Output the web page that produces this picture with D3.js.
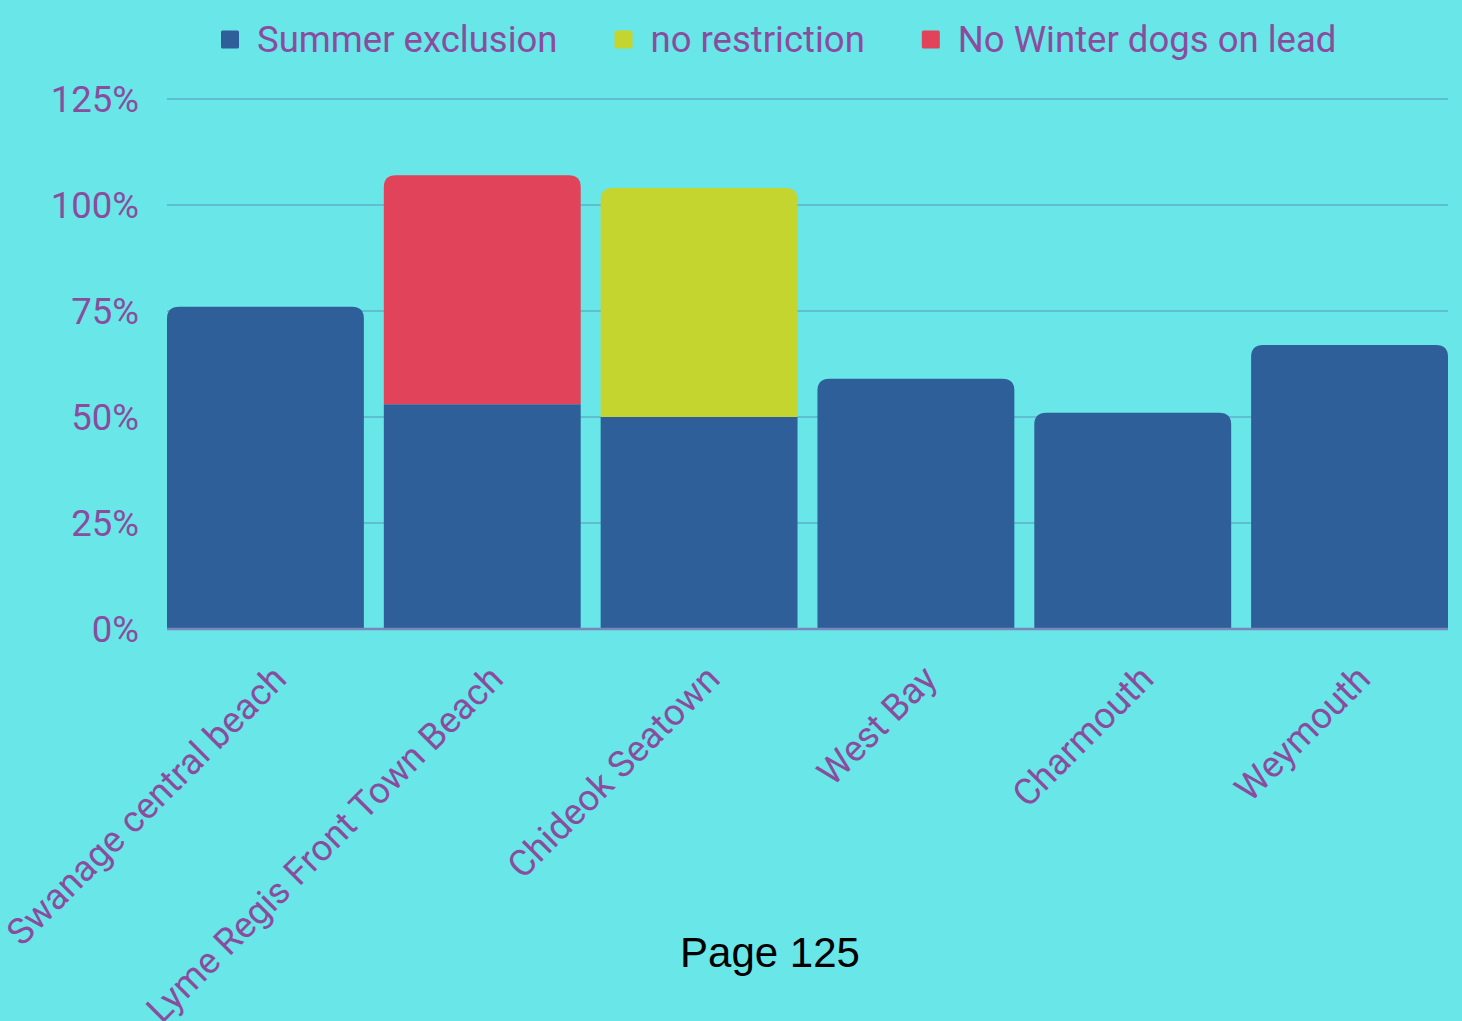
<!DOCTYPE html>
<html>
<head>
<meta charset="utf-8">
<script src="https://cdn.jsdelivr.net/npm/d3@7"></script>
<style>
  html, body { margin: 0; padding: 0; background: #69e6e8; }
  svg { display: block; }
</style>
</head>
<body>
<svg id="chart" width="1462" height="1021"></svg>
<script>
// Beach restriction shares by location (percent)
const categories = ["Swanage central beach", "Lyme Regis Front Town Beach", "Chideok Seatown", "West Bay", "Charmouth", "Weymouth"];
const seriesNames = ["Summer exclusion", "no restriction", "No Winter dogs on lead"];
const summerExclusion = [76, 53, 50, 59, 51, 67];
const noRestriction   = [0, 0, 54, 0, 0, 0];
const noWinterLead    = [0, 54, 0, 0, 0, 0];
const yTicks = [0, 25, 50, 75, 100, 125];
const colors = ["#2e5f98", "#c5d52f", "#e0435a"];
const title = "Page 125";

const W = 1462, H = 1021;
const margin = { top: 99, right: 14, bottom: 392, left: 167 };
const textColor = "#8a4d9e";
const labelSize = 36.5;

const svg = d3.select("#chart");
svg.append("rect").attr("width", W).attr("height", H).attr("fill", "#69e6e8");

const rows = categories.map((c, i) => ({
  cat: c,
  [seriesNames[0]]: summerExclusion[i],
  [seriesNames[1]]: noRestriction[i],
  [seriesNames[2]]: noWinterLead[i]
}));

const x = d3.scaleBand()
  .domain(categories)
  .range([margin.left, W - margin.right])
  .paddingInner(0.092)
  .paddingOuter(0);

const y = d3.scaleLinear()
  .domain([0, 125])
  .range([H - margin.bottom, margin.top]);

// gridlines
svg.append("g")
  .selectAll("line")
  .data(yTicks.filter(t => t > 0))
  .join("line")
  .attr("x1", margin.left)
  .attr("x2", W - margin.right)
  .attr("y1", d => y(d))
  .attr("y2", d => y(d))
  .attr("stroke", "#5fbfd0")
  .attr("stroke-width", 2);

// y axis labels
const yAxis = d3.axisLeft(y).tickValues(yTicks).tickFormat(d => d + "%").tickSize(0).tickPadding(28);
const gy = svg.append("g").attr("transform", `translate(${margin.left},0)`).call(yAxis);
gy.select(".domain").remove();
gy.selectAll("text")
  .attr("fill", textColor)
  .attr("font-family", "Roboto")
  .attr("font-size", labelSize)
  .attr("dy", "0.35em");

// stacked bars; the topmost non-empty segment gets rounded top corners
const stack = d3.stack().keys(seriesNames);
const stacked = stack(rows);
const r = 12;

function segPath(x0, w, yTop, yBot, rounded) {
  if (!rounded) {
    return `M${x0},${yBot}V${yTop}H${x0 + w}V${yBot}Z`;
  }
  const rr = Math.min(r, (yBot - yTop));
  return `M${x0},${yBot}V${yTop + rr}Q${x0},${yTop} ${x0 + rr},${yTop}` +
         `H${x0 + w - rr}Q${x0 + w},${yTop} ${x0 + w},${yTop + rr}V${yBot}Z`;
}

const topIndex = rows.map((row, i) => {
  let top = -1;
  seriesNames.forEach((k, s) => { if (row[k] > 0) top = s; });
  return top;
});

stacked.forEach((layer, s) => {
  svg.append("g")
    .selectAll("path")
    .data(layer.map((d, i) => ({ d, i })).filter(o => o.d[1] - o.d[0] > 0))
    .join("path")
    .attr("d", o => segPath(x(categories[o.i]), x.bandwidth(), y(o.d[1]), y(o.d[0]), topIndex[o.i] === s))
    .attr("fill", colors[s]);
});

// baseline
svg.append("line")
  .attr("x1", margin.left)
  .attr("x2", W - margin.right)
  .attr("y1", y(0))
  .attr("y2", y(0))
  .attr("stroke", "#7b86bd")
  .attr("stroke-width", 2.5);

// x axis labels, rotated
const xAxis = d3.axisBottom(x).tickSize(0).tickPadding(0);
const gx = svg.append("g").attr("transform", `translate(0,${y(0)})`).call(xAxis);
gx.select(".domain").remove();
gx.selectAll("text")
  .attr("fill", textColor)
  .attr("font-family", "Roboto")
  .attr("font-size", labelSize)
  .attr("text-anchor", "end")
  .attr("dy", null)
  .attr("y", 0)
  .attr("transform", "translate(23,52) rotate(-45)");

// legend
const legend = svg.append("g");
let lx = 221;
seriesNames.forEach((name, i) => {
  legend.append("rect")
    .attr("x", lx).attr("y", 30.5)
    .attr("width", 18).attr("height", 18)
    .attr("rx", 1.5)
    .attr("fill", colors[i]);
  const t = legend.append("text")
    .attr("x", lx + 36).attr("y", 52)
    .attr("fill", textColor)
    .attr("font-family", "Roboto")
    .attr("font-size", labelSize)
    .text(name);
  lx += 36 + t.node().getComputedTextLength() + 57;
});

// page caption
svg.append("text")
  .attr("x", 770).attr("y", 967)
  .attr("text-anchor", "middle")
  .attr("font-family", "Liberation Sans, Arial, sans-serif")
  .attr("font-size", 42)
  .attr("fill", "#000")
  .text(title);
</script>
</body>
</html>
